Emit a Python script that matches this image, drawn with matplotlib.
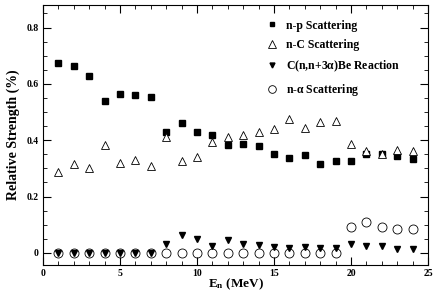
import numpy as np
from matplotlib import pyplot as plt
from matplotlib.ticker import MultipleLocator

plt.rcParams['font.family'] = ['Liberation Serif', 'DejaVu Serif']
plt.rcParams['font.weight'] = 'bold'
plt.rcParams['mathtext.fontset'] = 'custom'
plt.rcParams['mathtext.rm'] = 'Liberation Serif:bold'
plt.rcParams['mathtext.it'] = 'Liberation Serif:bold'

energy = np.arange(1, 25)

n_p = [0.675, 0.665, 0.628, 0.540, 0.565, 0.560, 0.555, 0.430, 0.460, 0.430,
       0.420, 0.384, 0.388, 0.378, 0.352, 0.336, 0.348, 0.317, 0.325, 0.327,
       0.351, 0.351, 0.343, 0.332]
n_c = [0.286, 0.317, 0.302, 0.382, 0.320, 0.330, 0.307, 0.410, 0.326, 0.340,
       0.395, 0.410, 0.420, 0.430, 0.441, 0.476, 0.442, 0.464, 0.469, 0.385,
       0.362, 0.350, 0.364, 0.363]
c_reac = [0.0, 0.0, 0.0, 0.0, 0.0, 0.0, 0.0, 0.033, 0.063, 0.051,
          0.025, 0.046, 0.033, 0.027, 0.022, 0.017, 0.022, 0.017, 0.017, 0.030,
          0.025, 0.025, 0.014, 0.014]
n_alpha = [0.0] * 19 + [0.091, 0.109, 0.091, 0.084, 0.084]

fig = plt.figure(figsize=(4.36, 2.95), dpi=100)
ax = fig.add_axes([43 / 436, 30 / 295, 385 / 436, 260 / 295])

ax.plot(energy, n_p, 's', color='black', ms=4.2, label='n-p Scattering')
ax.plot(energy, n_c, '^', mfc='white', mec='black', mew=0.6, ms=6, label='n-C Scattering')
ax.plot(energy, c_reac, 'v', color='black', ms=4.2, label=r'C(n,n+3$\alpha$)Be Reaction')
ax.plot(energy, n_alpha, 'o', mfc='none', mec='black', mew=0.6, ms=6.5, label=r'n-$\alpha$ Scattering')

ax.set_xlim(0, 25)
ax.set_ylim(-0.043, 0.88)
ax.xaxis.set_major_locator(MultipleLocator(5))
ax.xaxis.set_minor_locator(MultipleLocator(1))
ax.yaxis.set_minor_locator(MultipleLocator(0.05))
ax.set_yticks([0, 0.2, 0.4, 0.6, 0.8])
ax.set_yticklabels(['0', '0.2', '0.4', '0.6', '0.8'])
ax.tick_params(which='both', direction='in', top=True, right=True, labelsize=7)
ax.tick_params(which='major', length=6, width=0.8, pad=3)
ax.tick_params(which='minor', length=3, width=0.6)

ax.set_xlabel(r'E$_\mathrm{n}$ (MeV)', fontsize=9.5, fontweight='bold', labelpad=-1.5)
ax.set_ylabel('Relative Strength (%)', fontsize=10, fontweight='bold', labelpad=5)

ax.legend(loc='upper right', frameon=False, fontsize=8.5, handletextpad=0.4,
          handlelength=1.6, labelspacing=0.65, markerscale=0.85,
          bbox_to_anchor=(0.955, 0.985))

plt.savefig('out.png', dpi=100)
